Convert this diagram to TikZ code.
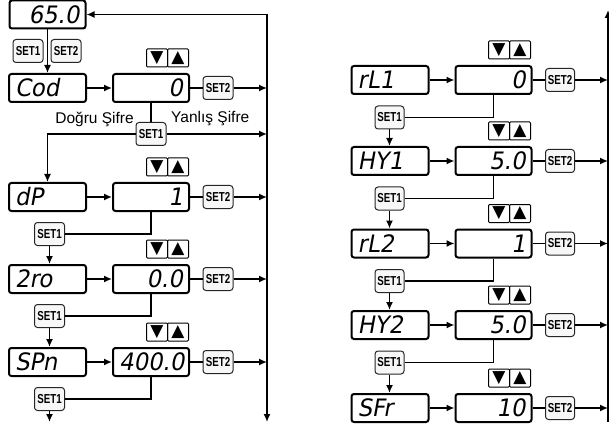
\documentclass[tikz,border=0pt]{standalone}
\usepackage{fontspec}
\setmainfont{Liberation Sans}
\newfontfamily\segfont[FakeSlant=0.18,FakeStretch=0.95]{DejaVu Sans}
\newfontfamily\btnfont[FakeStretch=0.75]{Liberation Sans}
\newfontfamily\symfont{DejaVu Sans}
\usetikzlibrary{arrows.meta,calc}
\begin{document}
\begin{tikzpicture}[x=1pt,y=-1pt,
  disp/.style={draw, line width=2pt, rounded corners=2.5pt, minimum height=28pt, inner xsep=6pt, inner ysep=0pt, text height=17.5pt, text depth=0pt, font=\segfont\fontsize{24}{24}\selectfont},
  namebox/.style={disp, text width=65pt, align=left},
  valbox/.style={disp, text width=64pt, align=right},
  btn/.style={draw=black!85, line width=1pt, rounded corners=3pt, fill=black!3, minimum width=30pt, minimum height=23pt, inner sep=0pt, font=\btnfont\bfseries\fontsize{13}{13}\selectfont},
  keybox/.style={draw, line width=1pt, rounded corners=1pt, minimum width=21pt, minimum height=18pt, inner sep=0pt, font=\symfont\fontsize{17}{17}\selectfont},
  conn/.style={line width=1.5pt},
  arr/.style={conn, -{Latex[length=8pt,width=7pt]}},
  lbl/.style={font=\fontsize{15.5}{15.5}\selectfont, inner sep=0pt}
]
\useasboundingbox (0,0) rectangle (609,430);
\coordinate (LT) at (267,14.5);
\coordinate (LB) at (267,422);
\coordinate (RT) at (608,10);
\coordinate (RB) at (608,422);

% top display
\node[valbox] (top) at (47.5,14.5) {65.0};
\node[btn] (ts1) at (28,51) {SET1};
\node[btn] (ts2) at (66,51) {SET2};

% left column rows
\foreach \i/\nm/\vl/\y in {1/Cod/0/88, 2/dP/1/197, 3/2ro/0.0/279, 4/SPn/400.0/362} {
  \node[namebox] (n\i) at (47.5,\y) {\nm};
  \node[valbox] (v\i) at (151,\y) {\vl};
  \node[keybox] (kd\i) at (157,{\y-30}) {▼};
  \node[keybox] (ku\i) at (178,{\y-30}) {▲};
  \node[btn] (b\i) at (218,\y) {SET2};
  \draw[arr] (n\i) -- (v\i);
  \draw[conn] (v\i) -- (b\i);
  \draw[arr] (b\i) -- (b\i -| LT);
}
\foreach \i/\y in {2/197, 3/279, 4/362} {
  \node[btn] (c\i) at (49.5,{\y+37}) {SET1};
  \draw[conn] (v\i.south) |- (c\i.east);
}
\foreach \i/\j in {2/3, 3/4} {
  \draw[arr] (c\i.south) -- (c\i.south |- n\j.north);
}
\coordinate (LE) at (49.5,422);
\draw[arr] (c4.south) -- (LE);

% Cod branching
\node[btn] (cc) at (151,134) {SET1};
\draw[conn] (v1.south) -- (cc.north);
\draw[arr] (cc.west) -| (n2.north);
\draw[arr] (cc.east) -- (cc.east -| LT);
\node[lbl, anchor=east] (dogru) at (134,119) {Doğru Şifre};
\node[lbl, anchor=west] (yanlis) at (171,119) {Yanlış Şifre};

% top connections
\draw[arr] (top.south) -- (n1.north);
\draw[arr] (LT) -- (top.east);
\draw[arr] (LT) -- (LB);

% right column rows
\foreach \i/\nm/\vl/\y in {1/rL1/0/80, 2/HY1/5.0/161, 3/rL2/1/243.5, 4/HY2/5.0/325, 5/SFr/10/408} {
  \node[namebox] (rn\i) at (390,\y) {\nm};
  \node[valbox] (rv\i) at (493.5,\y) {\vl};
  \node[keybox] (rkd\i) at (499,{\y-30}) {▼};
  \node[keybox] (rku\i) at (520,{\y-30}) {▲};
  \node[btn, minimum width=29pt] (rb\i) at (560,\y) {SET2};
  \draw[arr] (rn\i) -- (rv\i);
  \draw[conn] (rv\i) -- (rb\i);
  \draw[arr] (rb\i) -- (rb\i -| RT);
}
\foreach \i/\y in {1/80, 2/161, 3/243.5, 4/325} {
  \node[btn, minimum width=29pt] (rc\i) at (389.5,{\y+37.5}) {SET1};
  \draw[conn] (rv\i.south) |- (rc\i.east);
}
\foreach \i/\j in {1/2, 2/3, 3/4, 4/5} {
  \draw[arr] (rc\i.south) -- (rc\i.south |- rn\j.north);
}
\draw[arr] (RB) -- (RT);
\end{tikzpicture}
\end{document}
